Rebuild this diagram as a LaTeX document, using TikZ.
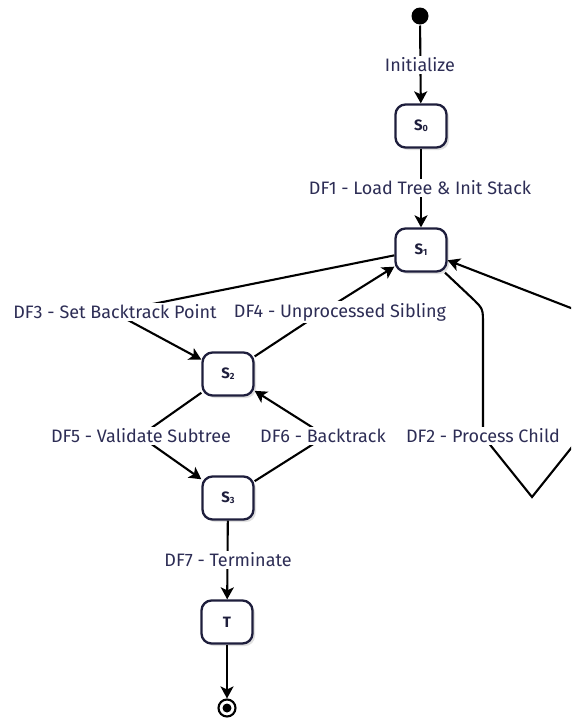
\documentclass[tikz,border=0pt]{standalone}
\usepackage{fontspec}
\setmainfont{Fira Sans}
\usetikzlibrary{arrows.meta,shadows}

\definecolor{ink}{RGB}{30,30,60}
\definecolor{labeltext}{RGB}{45,45,85}
\newcommand{\stsub}[1]{\raisebox{-0.15ex}{\fontsize{9}{9}\selectfont #1}}

\tikzset{every picture/.style={line width=2pt}}
\tikzset{
  state/.style={draw=ink, fill=white, rounded corners=10pt, line width=2.3pt,
    minimum width=51pt, minimum height=43pt, text=ink,
    font=\fontsize{15}{17}\selectfont\bfseries,
    general shadow={fill=black!12, shadow xshift=2.5pt, shadow yshift=-2.5pt}},
  flow/.style={draw=black, line width=2.1pt, -{Stealth[length=12pt,width=13pt,inset=3pt]}},
  edgelabel/.style={fill=white, text=labeltext, inner sep=2pt,
    font=\fontsize{18}{21}\selectfont},
}

\begin{document}
\begin{tikzpicture}[x=1pt,y=1pt,yscale=-1,xscale=1]
	\useasboundingbox (0,0) rectangle (571,718);
	\clip (0,0) rectangle (571,718);

	%Shape: Circle [start]
	\node [circle, fill=black, minimum size=17pt, inner sep=0pt] (start) at (420,16) {};
	%Shape: Rounded Rectangle [states]
	\node [state] (s0) at (421,126) {S\stsub{0}};
	\node [state] (s1) at (421,250) {S\stsub{1}};
	\node [state] (s2) at (228,374) {S\stsub{2}};
	\node [state] (s3) at (228,498) {S\stsub{3}};
	\node [state] (t) at (227,622) {T};
	%Shape: Circle [stop]
	\node [circle, draw=black, line width=2.1pt, minimum size=17pt, inner sep=0pt] (stop) at (227,708) {};
	\fill (stop.center) circle (4.5pt);

	% Bend points
	\coordinate (df3) at (113,312);
	\coordinate (df4) at (322,312);
	\coordinate (df5) at (140,436);
	\coordinate (df6) at (326,436);
	\coordinate (df2) at (483,436);
	\coordinate (df2a) at (474,300);
	\coordinate (df2b) at (483,325);
	\coordinate (df2c) at (532,497);
	\coordinate (df2d) at (600,412);
	\coordinate (df2e) at (620,327);

	%Straight Lines
	\draw [flow] (start) -- (s0);
	\draw [flow] (s0) -- (s1);
	\draw [flow] (s1) -- (df3) -- (s2);
	\draw [flow] (s2) -- (df4) -- (s1);
	\draw [flow] (s2) -- (df5) -- (s3);
	\draw [flow] (s3) -- (df6) -- (s2);
	\draw [flow] (s1) -- (df2a) .. controls (483,309) .. (df2b) -- (df2) -- (df2c) -- (df2d) -- (df2e) -- (s1);
	\draw [flow] (s3) -- (t);
	\draw [flow] (t) -- (stop);

	% Text Node
	\node [edgelabel] (linit) at (420,65) {Initialize};
	% Text Node
	\node [edgelabel] (ldf1) at (420,188) {DF1 - Load Tree \& Init Stack};
	% Text Node
	\node [edgelabel] (ldf3) at (115,312) {DF3 - Set Backtrack Point};
	% Text Node
	\node [edgelabel] (ldf4) at (340,312) {DF4 - Unprocessed Sibling};
	% Text Node
	\node [edgelabel] (ldf5) at (141,436) {DF5 - Validate Subtree};
	% Text Node
	\node [edgelabel] (ldf6) at (323,436) {DF6 - Backtrack};
	% Text Node
	\node [edgelabel] (ldf2) at (483,436) {DF2 - Process Child};
	% Text Node
	\node [edgelabel] (ldf7) at (228,560) {DF7 - Terminate};

\end{tikzpicture}
\end{document}
